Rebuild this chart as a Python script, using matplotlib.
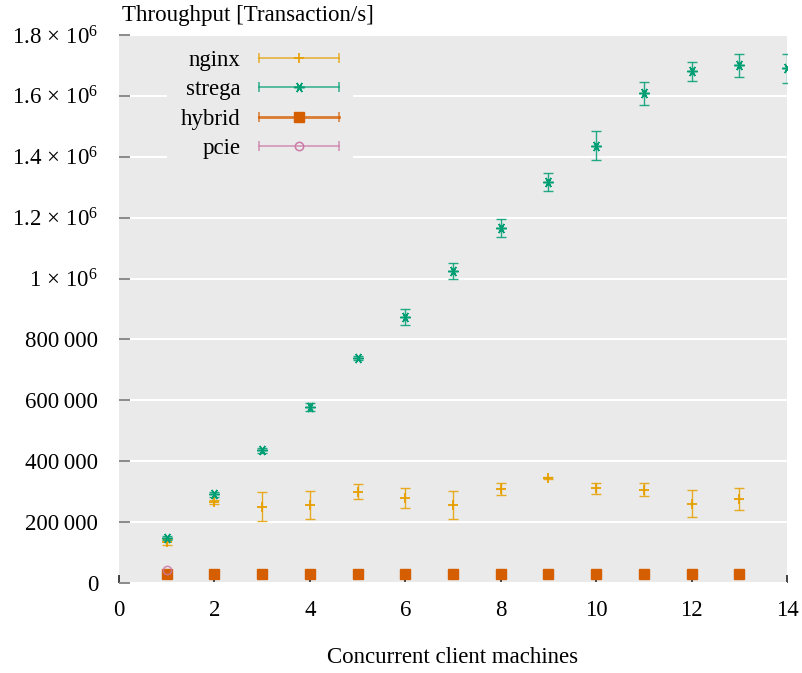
import numpy as np
import matplotlib
matplotlib.use("Agg")
import matplotlib.pyplot as plt
from matplotlib.lines import Line2D
from matplotlib.legend_handler import HandlerBase
from matplotlib.ticker import FuncFormatter

plt.rcParams["font.family"] = ["Liberation Serif", "DejaVu Serif"]
plt.rcParams["font.size"] = 16.5
plt.rcParams["mathtext.fontset"] = "custom"
plt.rcParams["mathtext.rm"] = "Liberation Serif"
plt.rcParams["mathtext.it"] = "Liberation Serif:italic"

# data
clients = np.arange(1, 15)

strega = np.array([148e3, 292e3, 436e3, 578e3, 739e3, 873e3, 1025e3,
                   1166e3, 1317e3, 1437e3, 1609e3, 1681e3, 1700e3, 1690e3])
strega_err = np.array([6e3, 8e3, 8e3, 12e3, 8e3, 26e3, 25e3,
                       30e3, 31e3, 48e3, 38e3, 31e3, 38e3, 48e3])

nginx_x = np.arange(1, 14)
nginx = np.array([136e3, 267e3, 251e3, 256e3, 300e3, 278e3, 256e3,
                  308e3, 346e3, 312e3, 306e3, 260e3, 275e3])
nginx_err = np.array([10e3, 6e3, 47e3, 45e3, 24e3, 33e3, 46e3,
                      20e3, 3e3, 18e3, 21e3, 44e3, 36e3])

hybrid_x = np.arange(1, 14)
hybrid = np.array([31e3] * 13)

pcie_x = np.array([1])
pcie = np.array([42e3])

c_nginx = "#e69f00"
c_strega = "#009e73"
c_hybrid = "#d55e00"
c_pcie = "#cc79a7"
star = (6, 2, 90)

fig = plt.figure(figsize=(8.02, 6.73), dpi=100)
ax = fig.add_axes([0.1484, 0.1337, 0.8329, 0.8143])
ax.set_facecolor("#eaeaea")

ax.errorbar(nginx_x, nginx, yerr=nginx_err, fmt="none", ecolor=c_nginx,
            elinewidth=1.0, capsize=3.3, capthick=1.0, alpha=0.85, zorder=3)
ax.plot(nginx_x, nginx, "+", color=c_nginx, ms=6.5, mew=1.3, zorder=4)

ax.errorbar(clients, strega, yerr=strega_err, fmt="none", ecolor=c_strega,
            elinewidth=1.0, capsize=3.3, capthick=1.0, alpha=0.85, zorder=3)
ax.plot(clients, strega, ls="none", marker=star, color=c_strega, ms=7.5,
        mew=1.1, zorder=4)

ax.plot(hybrid_x, hybrid, "s", color=c_hybrid, ms=6.5, zorder=4)
ax.plot(pcie_x, pcie, "o", mfc="none", mec=c_pcie, ms=6, mew=1.1, alpha=0.85,
        zorder=5)

ax.set_xlim(0, 14)
ax.set_ylim(0, 1.8e6)
ax.set_xticks(np.arange(0, 15, 2))
ax.set_yticks(np.arange(0, 1.8e6 + 1, 2e5))


def fmt_y(v, pos):
    if v >= 1e6 - 1:
        m = v / 1e6
        s = "1" if abs(m - 1) < 1e-9 else "%.1f" % m
        return r"$\mathrm{%s}\,\times\,\mathrm{10}^{6}$" % s
    if v == 0:
        return "0"
    return "{:,}".format(int(round(v))).replace(",", "\u2009")


ax.yaxis.set_major_formatter(FuncFormatter(fmt_y))
ax.grid(axis="y", color="white", lw=1.5)
ax.set_axisbelow(True)
for s in ax.spines.values():
    s.set_visible(False)
ax.tick_params(axis="y", direction="in", length=8, width=1.2, color="#777777",
               pad=15)
ax.tick_params(axis="x", direction="in", length=6, width=1.2, color="#222222",
               pad=12)

fig.text(0.152, 0.962, "Throughput [Transaction/s]", ha="left", va="bottom")
ax.set_xlabel("Concurrent client machines", labelpad=19)


class CapLine(HandlerBase):
    def create_artists(self, legend, orig, xd, yd, w, h, fontsize, trans):
        x0, x1 = -xd, -xd + w
        y = -yd + h / 2
        col, mk, lw, extra = orig
        line = Line2D([x0, x1], [y, y], color=col, lw=lw, marker="|", ms=7,
                      mew=1.1, alpha=0.8, transform=trans)
        m = Line2D([(x0 + x1) / 2], [y], ls="none", marker=mk, transform=trans,
                   **extra)
        return [line, m]


handles = [
    (c_nginx, "+", 1.1, dict(color=c_nginx, ms=6.5, mew=1.2)),
    (c_strega, star, 1.1, dict(color=c_strega, ms=7.5, mew=1.1)),
    (c_hybrid, "s", 2.0, dict(color=c_hybrid, ms=6.5)),
    (c_pcie, "o", 1.1, dict(mfc="none", mec=c_pcie, ms=6, mew=1.1)),
]
labels = ["nginx", "strega", "hybrid", "pcie"]
leg = ax.legend(handles, labels, handler_map={tuple: CapLine()},
                loc="upper left", bbox_to_anchor=(0.072, 0.997),
                markerfirst=False, handlelength=3.5, handletextpad=0.79,
                labelspacing=0.35, borderpad=0.6, borderaxespad=0,
                facecolor="#eaeaea", edgecolor="none", framealpha=1,
                fancybox=False)

fig.savefig("out.png", dpi=100)
